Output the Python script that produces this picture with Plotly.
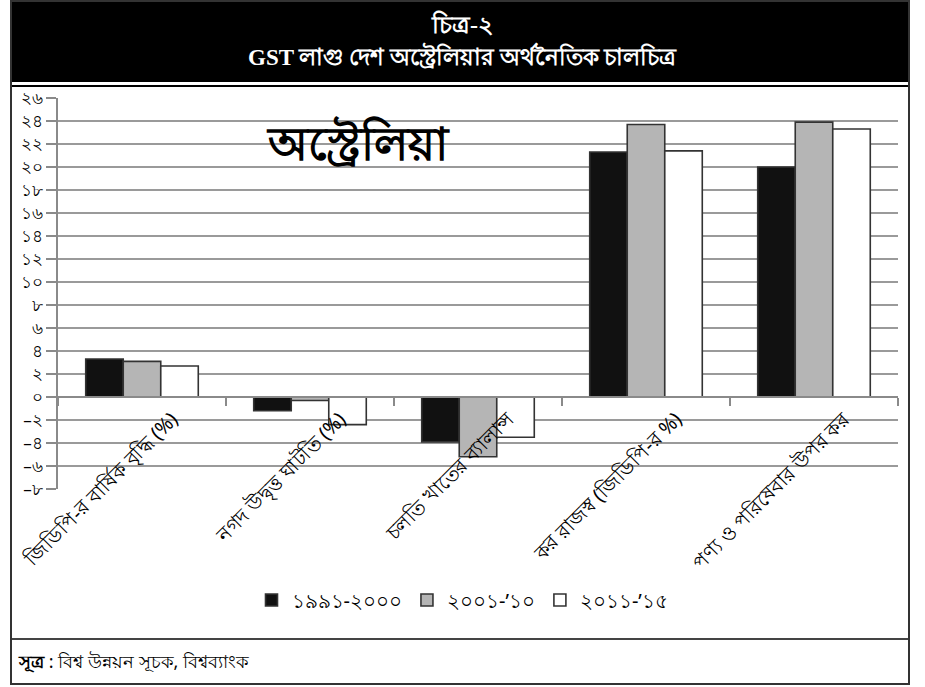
import plotly.graph_objects as go

# ---- data ----
categories = [
    "জিডিপি-র বার্ষিক বৃদ্ধি (%)",
    "নগদ উদ্বৃত্ত ঘাটতি (%)",
    "চলতি খাতের ব্যালান্স",
    "কর রাজস্ব (জিডিপি-র %)",
    "পণ্য ও পরিষেবার উপর কর",
]
series_names = ["১৯৯১-২০০০", "২০০১-’১০", "২০১১-’১৫"]
values_1991_2000 = [3.3, -1.2, -3.9, 21.3, 20.0]
values_2001_10 = [3.1, -0.3, -5.2, 23.7, 23.9]
values_2011_15 = [2.7, -2.4, -3.5, 21.4, 23.3]
y_tickvals = [-8, -6, -4, -2, 0, 2, 4, 6, 8, 10, 12, 14, 16, 18, 20, 22, 24, 26]
y_ticktext = ["–৮", "–৬", "–৪", "–২", "০", "২", "৪", "৬", "৮", "১০", "১২", "১৪",
              "১৬", "১৮", "২০", "২২", "২৪", "২৬"]
title_line1 = "চিত্র-২"
title_line2 = "GST লাগু দেশ অস্ট্রেলিয়ার অর্থনৈতিক চালচিত্র"
big_label = "অস্ট্রেলিয়া"
source_text = "<b>সূত্র</b> : বিশ্ব উন্নয়ন সূচক, বিশ্বব্যাংক"

W, H = 925, 687
Y_MIN, Y_MAX = -8, 26


def px_x(x):
    return x / W


def px_y(y):
    return 1 - y / H


fills = ["#111111", "#b5b5b5", "#ffffff"]
all_values = [values_1991_2000, values_2001_10, values_2011_15]

fig = go.Figure()
for name, vals, col in zip(series_names, all_values, fills):
    fig.add_trace(go.Bar(
        x=categories, y=vals, name=name,
        marker=dict(color=col, line=dict(color="#333333", width=1.6)),
    ))

y_dom = [px_y(489), px_y(98)]
x_axis_pos = y_dom[0] + (0 - Y_MIN) / (Y_MAX - Y_MIN) * (y_dom[1] - y_dom[0])

fig.update_layout(
    width=W, height=H,
    margin=dict(l=0, r=0, t=0, b=0, autoexpand=False),
    paper_bgcolor="white", plot_bgcolor="white",
    barmode="group", bargap=0.33, bargroupgap=0,
    font=dict(family="Noto Sans, DejaVu Sans", color="black"),
    xaxis=dict(
        domain=[px_x(58), px_x(898)],
        anchor="free", position=x_axis_pos, automargin=False,
        showline=True, linecolor="#8a8a8a", linewidth=1.5,
        ticks="outside", tickson="boundaries", ticklen=8,
        tickcolor="#8a8a8a", tickwidth=1.5,
        tickangle=-45, tickfont=dict(size=20, color="black"),
        ticklabelshift=30, ticklabelstandoff=2,
        showgrid=False,
    ),
    yaxis=dict(
        domain=y_dom, range=[Y_MIN, Y_MAX], automargin=False,
        tickvals=y_tickvals, ticktext=y_ticktext,
        showline=True, linecolor="#8a8a8a", linewidth=1.5,
        ticks="outside", ticklen=10, tickcolor="#8a8a8a", tickwidth=1.5,
        showgrid=True, gridcolor="#9a9a9a", gridwidth=1.5,
        zeroline=False, tickfont=dict(size=17, color="black"),
    ),
    legend=dict(
        orientation="h", x=0.5, xanchor="center",
        y=px_y(600), yanchor="middle",
        font=dict(size=20, color="black"),
        traceorder="normal",
    ),
    showlegend=True,
)

# header band, frame and separators
fig.add_shape(type="rect", xref="paper", yref="paper",
              x0=px_x(11), x1=px_x(909), y0=px_y(82), y1=px_y(0),
              fillcolor="black", line=dict(width=0), layer="below")
fig.add_shape(type="line", xref="paper", yref="paper",
              x0=px_x(11), x1=px_x(909), y0=px_y(86), y1=px_y(86),
              line=dict(color="black", width=2))
fig.add_shape(type="line", xref="paper", yref="paper",
              x0=px_x(11), x1=px_x(909), y0=px_y(639), y1=px_y(639),
              line=dict(color="#444444", width=2))
fig.add_shape(type="rect", xref="paper", yref="paper",
              x0=px_x(11), x1=px_x(909), y0=px_y(684), y1=px_y(1),
              line=dict(color="#333333", width=2), fillcolor="rgba(0,0,0,0)")

fig.add_annotation(text="<b>" + title_line1 + "</b>", xref="paper", yref="paper",
                   x=px_x(462), y=px_y(8), showarrow=False,
                   font=dict(family="Liberation Serif, DejaVu Serif", size=24, color="white"))
fig.add_annotation(text="<b>" + title_line2 + "</b>", xref="paper", yref="paper",
                   x=px_x(462), y=px_y(40), showarrow=False,
                   font=dict(family="Liberation Serif, DejaVu Serif", size=23, color="white"))
fig.add_annotation(text="<b>" + big_label + "</b>", xref="paper", yref="paper",
                   x=px_x(358), y=px_y(114), showarrow=False,
                   font=dict(family="Liberation Serif, DejaVu Serif", size=46, color="black"))
fig.add_annotation(text=source_text, xref="paper", yref="paper",
                   x=px_x(16), y=px_y(675), xanchor="left", showarrow=False,
                   font=dict(size=18, color="black"))

fig.write_html("out.html", config={"displayModeBar": False},
               post_script="document.body.style.margin='0';document.body.style.overflow='hidden';")
